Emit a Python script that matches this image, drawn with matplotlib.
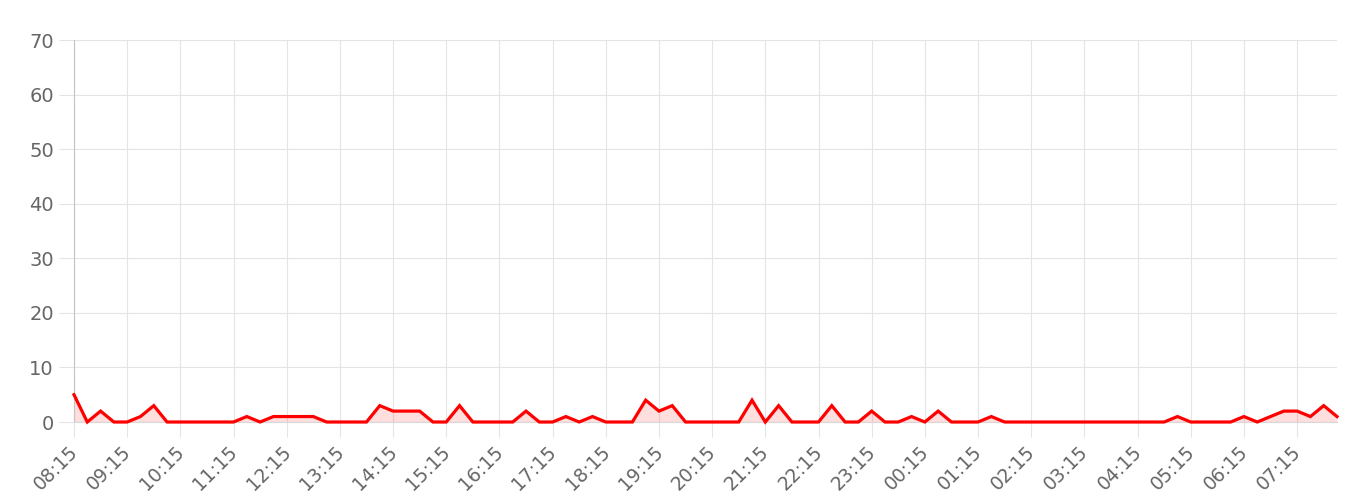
import matplotlib
matplotlib.use("Agg")
import matplotlib.pyplot as plt
import matplotlib.transforms as mtransforms
import pandas as pd

# 15-minute samples from 08:15 to 08:00 next day
times = pd.date_range("2024-01-01 08:15", periods=96, freq="15min")
time_labels = [t.strftime("%H:%M") for t in times]

values = [
    5, 0, 2, 0, 0, 1, 3, 0, 0, 0, 0, 0, 0, 1, 0, 1, 1, 1, 1, 0,
    0, 0, 0, 3, 2, 2, 2, 0, 0, 3, 0, 0, 0, 0, 2, 0, 0, 1, 0, 1,
    0, 0, 0, 4, 2, 3, 0, 0, 0, 0, 0, 4, 0, 3, 0, 0, 0, 3, 0, 0,
    2, 0, 0, 1, 0, 2, 0, 0, 0, 1, 0, 0, 0, 0, 0, 0, 0, 0, 0, 0,
    0, 0, 0, 1, 0, 0, 0, 0, 1, 0, 1, 2, 2, 1, 3, 1,
]

y_ticks = [0, 10, 20, 30, 40, 50, 60, 70]

W, H = 1360, 503
fig = plt.figure(figsize=(W / 100, H / 100), dpi=100)
ax = fig.add_axes([74 / W, 1 - 422 / H, (1337 - 74) / W, (422 - 40) / H])

x = list(range(len(values)))
ax.fill_between(x, values, 0, color=(1, 0, 0, 0.13), linewidth=0, zorder=2)
ax.plot(x, values, color="#ff0000", linewidth=2.3, solid_joinstyle="miter",
        zorder=3, clip_on=False)

ax.set_xlim(0, len(values) - 1)
ax.set_ylim(0, 70)
ax.set_yticks(y_ticks)
ax.set_yticklabels([str(v) for v in y_ticks])

xt = list(range(0, len(values), 4))
ax.set_xticks(xt)
ax.set_xticklabels([time_labels[i] for i in xt], rotation=45, ha="right",
                   va="center", rotation_mode="anchor")

grid_c = "#e4e4e4"
ax.grid(True, color=grid_c, linewidth=0.8, zorder=0)
ax.set_axisbelow(True)
for s in ["top", "right"]:
    ax.spines[s].set_visible(False)
ax.spines["left"].set_color("#c4c4c4")
ax.spines["left"].set_linewidth(0.8)
ax.spines["bottom"].set_color("#d8d8d8")
ax.spines["bottom"].set_linewidth(0.8)

ax.tick_params(axis="y", length=10.5, width=0.8, color=grid_c, pad=4,
               labelsize=14, labelcolor="#666666")
ax.tick_params(axis="x", length=10.5, width=0.8, color=grid_c, pad=9,
               labelsize=13.5, labelcolor="#666666")
shift = mtransforms.ScaledTranslation(1 / 100, 0, fig.dpi_scale_trans)
for lab in ax.get_xticklabels():
    lab.set_fontfamily(["DejaVu Sans"])
    lab.set_transform(lab.get_transform() + shift)
for lab in ax.get_yticklabels():
    lab.set_fontfamily(["DejaVu Sans"])

fig.savefig("out.png", dpi=100)
